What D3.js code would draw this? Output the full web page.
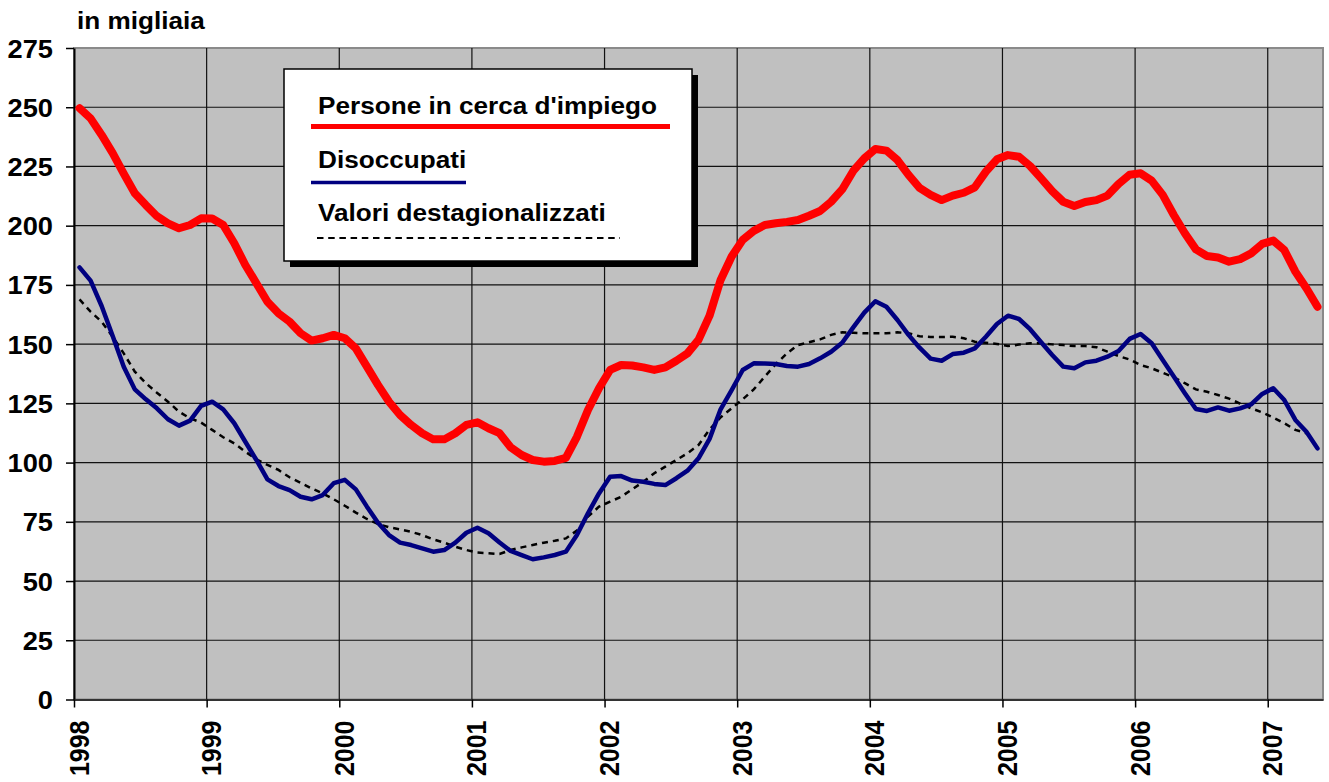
<!DOCTYPE html>
<html>
<head>
<meta charset="utf-8">
<script src="https://cdn.jsdelivr.net/npm/d3@7"></script>
<style>
    body { margin: 0; background: #fff; }
    text { font-family: "Liberation Sans", Arial, sans-serif; font-weight: bold; fill: #000; }
</style>
</head>
<body>
<div id="app"></div>
<script>
var years = ["1998", "1999", "2000", "2001", "2002", "2003", "2004", "2005", "2006", "2007"];
var yTicks = [0, 25, 50, 75, 100, 125, 150, 175, 200, 225, 250, 275];

// monthly values, Jan 1998 - May 2007
var persone = [
    249.6, 245.3, 238.3, 230.6, 222, 213.7, 208.7, 204, 201, 198.9, 200.3, 203.1,
    203, 200.3, 192.6, 183.4, 175.7, 167.9, 163, 159.5, 154.6, 151.5, 152.5, 153.9,
    152.5, 148.2, 140.5, 132.8, 125.7, 120.1, 115.9, 112.4, 109.8, 109.8, 112.4, 115.9,
    117, 114.5, 112.4, 106.5, 103.2, 101.1, 100.4, 100.7, 102, 110.9, 122.2, 131.4,
    139.1, 141.2, 141, 140.2, 139.1, 140.2, 143, 146.1, 151.8, 162, 177.1, 187,
    194, 197.8, 200.3, 201, 201.6, 202.4, 204.2, 206.2, 210.1, 215.3, 223.1, 228.4,
    232.4, 231.7, 227.7, 221.4, 216, 213, 210.8, 212.7, 213.9, 216.2, 222.8, 228,
    229.8, 229.1, 225.2, 220, 214.6, 210.1, 208.3, 210, 210.8, 212.7, 217.6, 221.5,
    222.1, 219, 213, 204.5, 196.8, 190, 187.2, 186.6, 184.8, 185.9, 188.3, 192.3,
    193.7, 189.7, 180.6, 173.6, 165.8
];
var disoccupati = [
    182.4, 176.8, 166.1, 153.4, 140.5, 130.9, 126.7, 122.9, 118.3, 115.6, 117.7, 123.9,
    125.7, 122.5, 116.6, 108.8, 101.1, 92.9, 90.1, 88.4, 85.6, 84.5, 86.3, 91.3,
    92.7, 88.7, 81.4, 74.6, 69.4, 66.2, 65.2, 63.8, 62.4, 63.1, 66.2, 70.4,
    72.5, 70.2, 66.3, 62.7, 60.9, 59.2, 60, 61, 62.4, 69.4, 78.6, 87,
    94, 94.3, 92.4, 91.9, 91, 90.5, 93.4, 96.6, 101.8, 110, 122.5, 130.6,
    139.1, 141.9, 141.8, 141.6, 140.8, 140.5, 141.6, 144, 146.8, 150.6, 157.1, 163.3,
    168.1, 165.8, 160.2, 153.9, 148.5, 143.9, 143, 145.8, 146.4, 148.2, 153.1, 158.5,
    162, 160.6, 156.3, 150.8, 145.4, 140.5, 139.8, 142.3, 143, 144.7, 147.1, 152.2,
    154.3, 150.4, 143.3, 136.3, 129.3, 122.6, 121.8, 123.3, 121.9, 122.9, 124.6, 129,
    131.4, 126.4, 118, 113, 106
];
var destagionalizzati = [
    168.9, 163.7, 159.5, 153.1, 146.1, 138.4, 133.5, 129.5, 125.7, 121.5, 118.7, 116.9,
    113.8, 110.7, 108.1, 104.6, 101.4, 99, 96.9, 93.8, 91.5, 89.1, 87, 84.5,
    81.8, 78.9, 76.2, 74.1, 72.7, 71.8, 70.8, 69.4, 67.6, 66.2, 64.5, 63.1,
    62, 61.7, 61.4, 63.1, 64.2, 65.2, 66.2, 67, 68, 71.3, 77.2, 81.4,
    83.5, 85.6, 88.7, 91.9, 95.5, 98.3, 101.1, 103.9, 107.4, 114, 119.1, 122.9,
    126.7, 130.9, 136.3, 141.6, 146.1, 149.6, 150.8, 152, 153.9, 155, 154.8, 154.6,
    154.6, 154.6, 155, 154.6, 153.3, 153, 153, 153.1, 152.5, 151, 150.6, 150.1,
    149.2, 149.8, 150.4, 150.4, 149.9, 149.6, 149.2, 149.2, 148.7, 146.8, 145, 143.5,
    141.2, 139.8, 137.9, 136, 133.5, 130.9, 129.9, 128.5, 127, 124.9, 122.9, 121.2,
    119, 116.6, 113.8, 112.4
];
var legendLabels = ["Persone in cerca d'impiego", "Disoccupati", "Valori destagionalizzati"];

var W = 1329, H = 782;
var plotL = 74, plotR = 1323, plotT = 48, plotB = 699.5;
var stretch = 1.09;

var svg = d3.select("#app")
    .append("svg")
    .attr("width", W)
    .attr("height", H);

var x = d3.scaleLinear().domain([0, persone.length]).range([plotL, plotR]);
var y = d3.scaleLinear().domain([0, 275]).range([plotB, plotT]);

//PLOT AREA
svg.append("rect")
    .attr("x", plotL)
    .attr("y", plotT)
    .attr("width", plotR - plotL)
    .attr("height", plotB - plotT)
    .style("fill", "#c0c0c0")
    .style("stroke", "#8a8a8a")
    .style("stroke-width", 2);

//GRID
svg.selectAll(".hgrid")
    .data(yTicks.slice(1, -1))
    .enter()
    .append("line")
    .attr("x1", plotL)
    .attr("x2", plotR)
    .attr("y1", function (d) { return y(d); })
    .attr("y2", function (d) { return y(d); })
    .style("stroke", "#111")
    .style("stroke-width", 1.2);
svg.selectAll(".vgrid")
    .data(years.slice(1))
    .enter()
    .append("line")
    .attr("x1", function (d, i) { return x((i + 1) * 12); })
    .attr("x2", function (d, i) { return x((i + 1) * 12); })
    .attr("y1", plotT)
    .attr("y2", plotB)
    .style("stroke", "#111")
    .style("stroke-width", 1.2);

//AXES
var yAxis = svg.append("g")
    .attr("transform", "translate(" + plotL + ",0)")
    .call(d3.axisLeft(y).tickValues(yTicks).tickSize(8).tickSizeOuter(0));
yAxis.select(".domain").style("stroke-width", 2);
yAxis.selectAll(".tick line").style("stroke-width", 1.5);
yAxis.selectAll("text")
    .attr("x", 0)
    .attr("dy", "0.36em")
    .attr("transform", "translate(-21,0) scale(" + stretch + ",1)")
    .style("font-size", "25px")
    .style("font-family", "'Liberation Sans', Arial, sans-serif")
    .style("font-weight", "bold");

var xAxis = svg.append("g")
    .attr("transform", "translate(0," + plotB + ")")
    .call(d3.axisBottom(x)
        .tickValues(years.map(function (d, i) { return i * 12; }))
        .tickFormat(function (d) { return years[d / 12]; })
        .tickSize(8)
        .tickSizeOuter(0));
xAxis.select(".domain").style("stroke", "#333").style("stroke-width", 2);
xAxis.selectAll(".tick line").style("stroke-width", 1.5);
xAxis.selectAll("text")
    .attr("x", 0)
    .attr("y", 0)
    .attr("dy", 0)
    .attr("text-anchor", "end")
    .attr("transform", "translate(14,21) scale(" + stretch + ",1) rotate(-90)")
    .style("font-size", "25px")
    .style("font-family", "'Liberation Sans', Arial, sans-serif")
    .style("font-weight", "bold");

//UNIT LABEL
svg.append("text")
    .attr("transform", "translate(77,29) scale(" + stretch + ",1)")
    .style("font-size", "24px")
    .text("in migliaia");

//SERIES
var line = d3.line()
    .x(function (d, i) { return x(i + 0.5); })
    .y(function (d) { return y(d); });

svg.append("path")
    .datum(destagionalizzati)
    .attr("d", line)
    .style("fill", "none")
    .style("stroke", "#000")
    .style("stroke-width", 2.5)
    .style("stroke-dasharray", "6,5");
svg.append("path")
    .datum(disoccupati)
    .attr("d", line)
    .style("fill", "none")
    .style("stroke", "#000080")
    .style("stroke-width", 4.5)
    .style("stroke-linejoin", "round")
    .style("stroke-linecap", "round");
svg.append("path")
    .datum(persone)
    .attr("d", line)
    .style("fill", "none")
    .style("stroke", "#ff0000")
    .style("stroke-width", 8)
    .style("stroke-linejoin", "round")
    .style("stroke-linecap", "round");

//LEGEND
var legend = svg.append("g").attr("transform", "translate(284,69)");
legend.append("rect")
    .attr("x", 6)
    .attr("y", 6)
    .attr("width", 408)
    .attr("height", 192)
    .style("fill", "#000");
legend.append("rect")
    .attr("x", 0)
    .attr("y", 0)
    .attr("width", 408)
    .attr("height", 192)
    .style("fill", "#fff")
    .style("stroke", "#000")
    .style("stroke-width", 1.5);

var legendRows = [
    { y: 45, ly: 57.5, x1: 27, x2: 386, color: "#ff0000", w: 5, dash: null },
    { y: 99, ly: 113.5, x1: 27, x2: 182, color: "#000080", w: 3.5, dash: null },
    { y: 152, ly: 169, x1: 33, x2: 336, color: "#000", w: 2, dash: "6.5,4.7" }
];
legendRows.forEach(function (r, i) {
    legend.append("text")
        .attr("transform", "translate(34," + r.y + ") scale(" + stretch + ",1)")
        .style("font-size", "24px")
        .text(legendLabels[i]);
    legend.append("line")
        .attr("x1", r.x1)
        .attr("x2", r.x2)
        .attr("y1", r.ly)
        .attr("y2", r.ly)
        .style("stroke", r.color)
        .style("stroke-width", r.w)
        .style("stroke-dasharray", r.dash);
});
</script>
</body>
</html>
